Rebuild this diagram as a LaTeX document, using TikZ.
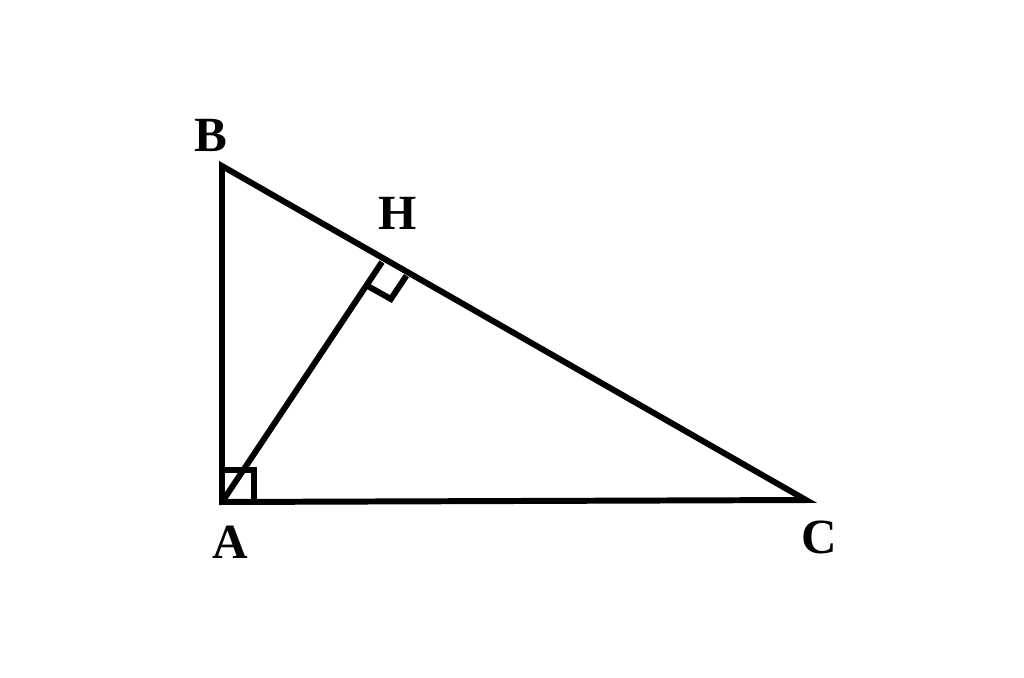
\documentclass[tikz,border=0pt]{standalone}
\usepackage{fontspec}
\setmainfont{Liberation Serif}
\usetikzlibrary{calc}

\tikzset{
  side/.style={line width=3.4pt},
  vlabel/.style={font=\fontsize{28}{30}\selectfont\bfseries, inner sep=0pt}
}

\begin{document}
\begin{tikzpicture}[x=0.02cm,y=-0.02cm]
\useasboundingbox (0,0) rectangle (1024,677);
\coordinate (A) at (222,502);
\coordinate (B) at (222,166);
\coordinate (C) at (806,500);
\coordinate (H) at (382,262);
\draw [side] (A) -- (B) -- (C) -- cycle;
\draw [side] (A) -- (H);
% right angles
\draw [side] ($(H)!0.56cm!(A)$) -- ($(H)!0.56cm!(A)+(H)!0.56cm!(C)-(H)$) -- ($(H)!0.56cm!(C)$);
\draw [side] (222,470) -- (254,470) -- (254,502);
\node[vlabel] (lB) at (211,135) {B};
\node[vlabel] (lH) at (398,213) {H};
\node[vlabel] (lA) at (230,542) {A};
\node[vlabel] (lC) at (819,537) {C};
\end{tikzpicture}
\end{document}
